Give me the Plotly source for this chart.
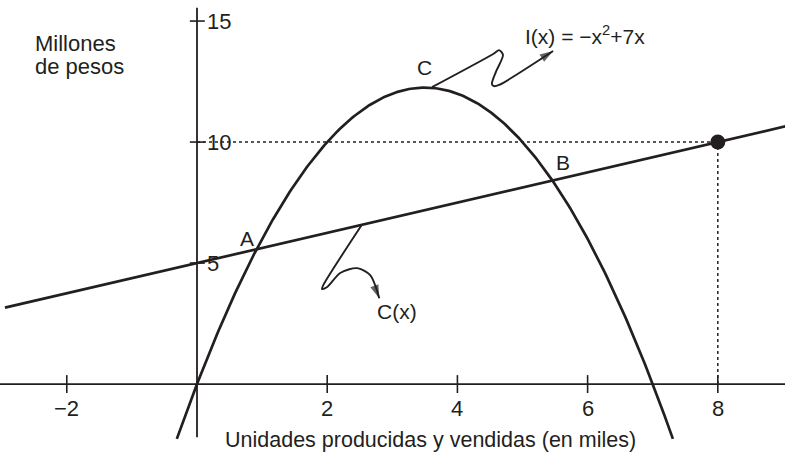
import numpy as np
import plotly.graph_objects as go

# ---- data ----
x_ticks = [-2, 2, 4, 6, 8]
x_tick_labels = ["\u22122", "2", "4", "6", "8"]
y_ticks = [5, 10, 15]
y_tick_labels = ["5", "10", "15"]

income_a, income_b = -1.0, 7.0          # I(x) = -x^2 + 7x
cost_intercept, cost_slope = 5.0, 0.625  # C(x) through (0,5) and (8,10)
parab_x_range = [-0.31, 7.31]
line_x_range = [-2.95, 9.2]
point_x, point_y = [8], [10]

labels = ["A", "B", "C"]
label_x = [0.77, 5.62, 3.49]
label_y = [6.03, 9.17, 13.10]

squig1_x = [3.61, 4.55, 4.64, 4.70, 4.59, 4.53, 4.56, 4.64, 5.47]
squig1_y = [12.27, 13.64, 13.80, 13.60, 12.89, 12.40, 12.31, 12.36, 13.76]
squig2_x = [2.53, 1.94, 1.92, 2.00, 2.20, 2.46, 2.66, 2.80]
squig2_y = [6.57, 4.09, 3.93, 4.01, 4.59, 4.79, 4.50, 3.55]

INK = "#231f20"
FONT = "Liberation Sans, Arial, sans-serif"
FS = 22

xp = np.linspace(parab_x_range[0], parab_x_range[1], 300)
yp = income_a * xp**2 + income_b * xp
xl = np.array(line_x_range)
yl = cost_intercept + cost_slope * xl

fig = go.Figure()
fig.add_trace(go.Scatter(x=xp, y=yp, mode="lines", line=dict(color=INK, width=2.7), hoverinfo="skip"))
fig.add_trace(go.Scatter(x=xl, y=yl, mode="lines", line=dict(color=INK, width=2.7), hoverinfo="skip"))
for sx, sy in [(squig1_x, squig1_y), (squig2_x, squig2_y)]:
    sizes = [0] * (len(sx) - 1) + [14]
    fig.add_trace(go.Scatter(x=sx, y=sy, mode="lines+markers",
                             line=dict(color=INK, width=1.9, shape="spline", smoothing=0.8),
                             marker=dict(symbol="arrow", size=sizes, color=INK, angleref="previous",
                                         line=dict(width=0)),
                             hoverinfo="skip"))

shapes = []
# axes
shapes.append(dict(type="line", xref="x", yref="y", x0=-3.1, x1=9.3, y0=0, y1=0,
                   line=dict(color=INK, width=1.8)))
shapes.append(dict(type="line", xref="x", yref="y", x0=0, x1=0, y0=-2.2, y1=15.55,
                   line=dict(color=INK, width=1.8)))
# dotted guides
shapes.append(dict(type="line", xref="x", yref="y", x0=0, x1=point_x[0], y0=point_y[0], y1=point_y[0],
                   line=dict(color=INK, width=1.5, dash="dot")))
shapes.append(dict(type="line", xref="x", yref="y", x0=point_x[0], x1=point_x[0], y0=0, y1=point_y[0],
                   line=dict(color=INK, width=1.5, dash="dot")))
# ticks
for t in x_ticks:
    shapes.append(dict(type="line", xref="x", yref="y", x0=t, x1=t, y0=-0.37, y1=0.37,
                       line=dict(color=INK, width=1.6)))
for t in y_ticks:
    shapes.append(dict(type="line", xref="x", yref="y", x0=-0.11, x1=0.12, y0=t, y1=t,
                       line=dict(color=INK, width=1.6)))

fig.add_trace(go.Scatter(x=point_x, y=point_y, mode="markers",
                         marker=dict(color=INK, size=15), hoverinfo="skip"))

ann = []
for t, lab in zip(x_ticks, x_tick_labels):
    ann.append(dict(x=t, y=-0.99, text=lab, showarrow=False, xanchor="center", yanchor="middle",
                    font=dict(size=FS, color=INK, family=FONT)))
for t, lab in zip(y_ticks, y_tick_labels):
    ann.append(dict(x=0.13, y=t, text=lab, showarrow=False, xanchor="left", yanchor="middle",
                    font=dict(size=FS, color=INK, family=FONT)))
for lab, lx, ly in zip(labels, label_x, label_y):
    ann.append(dict(x=lx, y=ly, text=lab, showarrow=False, xanchor="center", yanchor="middle",
                    font=dict(size=FS - 1, color=INK, family=FONT)))
ann.append(dict(x=3.07, y=2.98, text="C(x)", showarrow=False, xanchor="center", yanchor="middle",
                font=dict(size=FS - 1, color=INK, family=FONT)))
ann.append(dict(x=5.96, y=14.42, text="I(x) = \u2212x<sup>2</sup>+7x", showarrow=False,
                xanchor="center", yanchor="middle", font=dict(size=FS - 1, color=INK, family=FONT)))
ann.append(dict(x=-2.52, y=14.09, text="Millones", showarrow=False, xanchor="left", yanchor="middle",
                font=dict(size=FS, color=INK, family=FONT)))
ann.append(dict(x=-2.52, y=13.14, text="de pesos", showarrow=False, xanchor="left", yanchor="middle",
                font=dict(size=FS, color=INK, family=FONT)))
ann.append(dict(x=3.594, y=-2.31, text="Unidades producidas y vendidas (en miles)", showarrow=False,
                xanchor="center", yanchor="middle", font=dict(size=21.5, color=INK, family=FONT)))

fig.update_layout(
    width=785, height=469,
    margin=dict(l=0, r=0, t=0, b=0),
    paper_bgcolor="white", plot_bgcolor="white",
    showlegend=False,
    shapes=shapes, annotations=ann,
    xaxis=dict(range=[-3.026, 9.032], visible=False, fixedrange=True),
    yaxis=dict(range=[-3.51, 15.87], visible=False, fixedrange=True),
)
fig.write_html("out.html",
               config={"displayModeBar": False, "staticPlot": True},
               post_script="document.body.style.margin='0';document.body.style.overflow='hidden';")
